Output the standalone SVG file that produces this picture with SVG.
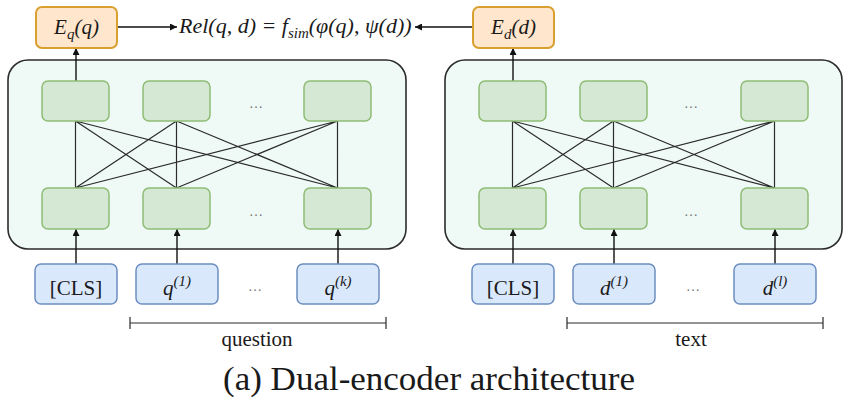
<svg xmlns="http://www.w3.org/2000/svg" width="864" height="405" viewBox="0 0 864 405">
<defs>
<marker id="ah" viewBox="0 0 10 10" refX="10" refY="5" markerWidth="7" markerHeight="7" markerUnits="userSpaceOnUse" orient="auto">
<path d="M0,0 L10,5 L0,10 z" fill="#111"/>
</marker>
</defs>
<style>
.outer{fill:#effaf6;stroke:#2b2b2b;stroke-width:1.6}
.g{fill:#d5e8d4;stroke:#8fbc74;stroke-width:1.5}
.b{fill:#dae8fc;stroke:#6c8ebf;stroke-width:1.5}
.o{fill:#ffe6cc;stroke:#d9a030;stroke-width:2}
.t{fill:#1a1a1a}
.i{font-style:italic}
.dots{fill:#777;font-size:14px}
.ln{stroke:#2b2b2b;stroke-width:1.2;fill:none}
.ar{stroke:#111;stroke-width:1.4;fill:none;marker-end:url(#ah)}
</style>
<rect width="864" height="405" fill="#ffffff"/>
<g id="encoder-q"><rect class="outer" x="8" y="60" width="398" height="189" rx="20"/></g>
<g id="encoder-d"><rect class="outer" x="445" y="60" width="397" height="189" rx="20"/></g>

<g id="connectors">
<path class="ln" d="M75.5,121 L75.5,188 M75.5,121 L176.5,188 M75.5,121 L337.5,188 M176.5,121 L75.5,188 M176.5,121 L176.5,188 M176.5,121 L337.5,188 M337.5,121 L75.5,188 M337.5,121 L176.5,188 M337.5,121 L337.5,188"/>
<path class="ln" d="M512.5,121 L512.5,188 M512.5,121 L613.5,188 M512.5,121 L774.5,188 M613.5,121 L512.5,188 M613.5,121 L613.5,188 M613.5,121 L774.5,188 M774.5,121 L512.5,188 M774.5,121 L613.5,188 M774.5,121 L774.5,188"/>
<line class="ar" x1="76" y1="81" x2="76" y2="48"/>
<line class="ar" x1="513" y1="81" x2="513" y2="48"/>
<line class="ar" x1="117" y1="27" x2="177" y2="27"/>
<line class="ar" x1="473" y1="27" x2="415" y2="27"/>
<line class="ar" x1="76" y1="264" x2="76" y2="229"/>
<line class="ar" x1="177" y1="264" x2="177" y2="229"/>
<line class="ar" x1="338" y1="264" x2="338" y2="229"/>
<line class="ar" x1="513" y1="264" x2="513" y2="229"/>
<line class="ar" x1="614" y1="264" x2="614" y2="229"/>
<line class="ar" x1="775" y1="264" x2="775" y2="229"/>
<path class="ln" d="M130,323 L386,323 M130,317 L130,329 M386,317 L386,329"/>
<path class="ln" d="M567,323 L823,323 M567,317 L567,329 M823,317 L823,329"/>
</g>

<g font-family="'Liberation Serif', 'Times New Roman', 'DejaVu Serif', serif">
<g id="eq"><rect class="o" x="36" y="7" width="81" height="41" rx="6"/>
<text class="t i" x="76.5" y="34" font-size="21" text-anchor="middle">E<tspan font-size="15" dy="5">q</tspan><tspan dy="-5">(q)</tspan></text></g>
<g id="ed"><rect class="o" x="473" y="7" width="81" height="41" rx="6"/>
<text class="t i" x="513.5" y="34" font-size="21" text-anchor="middle">E<tspan font-size="15" dy="5">d</tspan><tspan dy="-5">(d)</tspan></text></g>
<g id="rel"><text class="t i" x="179" y="33" font-size="22">Rel(q, d) = f<tspan font-size="15" dy="5">sim</tspan><tspan dy="-5">(φ(q), ψ(d))</tspan></text></g>

<g id="q-top-1"><rect class="g" x="42" y="81" width="67" height="40" rx="6"/></g>
<g id="q-top-2"><rect class="g" x="143" y="81" width="67" height="40" rx="6"/></g>
<g id="q-top-dots"><text class="dots" x="256" y="108" text-anchor="middle">…</text></g>
<g id="q-top-k"><rect class="g" x="304" y="81" width="67" height="40" rx="6"/></g>
<g id="q-bot-1"><rect class="g" x="42" y="188" width="67" height="41" rx="6"/></g>
<g id="q-bot-2"><rect class="g" x="143" y="188" width="67" height="41" rx="6"/></g>
<g id="q-bot-dots"><text class="dots" x="256" y="216" text-anchor="middle">…</text></g>
<g id="q-bot-k"><rect class="g" x="304" y="188" width="67" height="41" rx="6"/></g>

<g id="d-top-1"><rect class="g" x="479" y="81" width="67" height="40" rx="6"/></g>
<g id="d-top-2"><rect class="g" x="580" y="81" width="67" height="40" rx="6"/></g>
<g id="d-top-dots"><text class="dots" x="691" y="108" text-anchor="middle">…</text></g>
<g id="d-top-l"><rect class="g" x="741" y="81" width="67" height="40" rx="6"/></g>
<g id="d-bot-1"><rect class="g" x="479" y="188" width="67" height="41" rx="6"/></g>
<g id="d-bot-2"><rect class="g" x="580" y="188" width="67" height="41" rx="6"/></g>
<g id="d-bot-dots"><text class="dots" x="691" y="216" text-anchor="middle">…</text></g>
<g id="d-bot-l"><rect class="g" x="741" y="188" width="67" height="41" rx="6"/></g>

<g id="in-q-cls"><rect class="b" x="35" y="264" width="82" height="40" rx="6"/>
<text class="t" x="76" y="295" font-size="21" text-anchor="middle">[CLS]</text></g>
<g id="in-q-1"><rect class="b" x="136" y="264" width="82" height="40" rx="6"/>
<text class="t i" x="177" y="295" font-size="21" text-anchor="middle">q<tspan font-size="15" dy="-9">(1)</tspan></text></g>
<g id="in-q-dots"><text class="dots" x="255" y="291" text-anchor="middle">…</text></g>
<g id="in-q-k"><rect class="b" x="297" y="264" width="82" height="40" rx="6"/>
<text class="t i" x="338" y="295" font-size="21" text-anchor="middle">q<tspan font-size="15" dy="-9">(k)</tspan></text></g>

<g id="in-d-cls"><rect class="b" x="472" y="264" width="82" height="40" rx="6"/>
<text class="t" x="513" y="295" font-size="21" text-anchor="middle">[CLS]</text></g>
<g id="in-d-1"><rect class="b" x="573" y="264" width="82" height="40" rx="6"/>
<text class="t i" x="614" y="295" font-size="21" text-anchor="middle">d<tspan font-size="15" dy="-9">(1)</tspan></text></g>
<g id="in-d-dots"><text class="dots" x="693" y="291" text-anchor="middle">…</text></g>
<g id="in-d-l"><rect class="b" x="734" y="264" width="82" height="40" rx="6"/>
<text class="t i" x="775" y="295" font-size="21" text-anchor="middle">d<tspan font-size="15" dy="-9">(l)</tspan></text></g>

<g id="label-question"><text class="t" x="257" y="346" font-size="21" text-anchor="middle">question</text></g>
<g id="label-text"><text class="t" x="691" y="346" font-size="21" text-anchor="middle">text</text></g>
<g id="caption"><text class="t" x="429" y="390" font-size="33" text-anchor="middle" textLength="412" lengthAdjust="spacingAndGlyphs">(a) Dual-encoder architecture</text></g>
</g>
</svg>
